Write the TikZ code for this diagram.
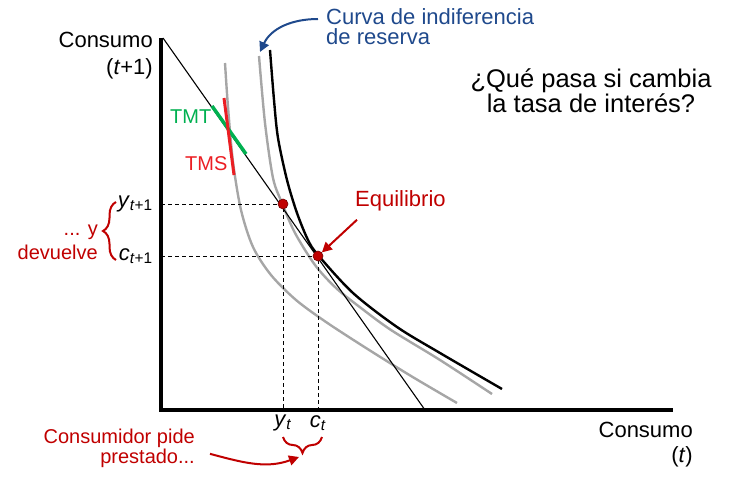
\documentclass[tikz,border=0pt]{standalone}
\usepackage{fontspec}
\setmainfont{Liberation Sans}
\usetikzlibrary{positioning,arrows.meta,decorations.pathreplacing}
\definecolor{rojo}{RGB}{192,0,0}
\definecolor{rojovivo}{RGB}{235,30,35}
\definecolor{verde}{RGB}{0,176,80}
\definecolor{azul}{RGB}{31,73,140}
\definecolor{gris}{RGB}{166,166,166}

\begin{document}
\begin{tikzpicture}[
        x=1pt, y=1pt,
        texto/.style={font=\fontsize{22}{27}\selectfont, inner sep=0pt},
        rotulo/.style={font=\fontsize{20}{20}\selectfont, inner sep=0pt, text=rojo},
        eje/.style={line width=3.5pt},
        curvagris/.style={gris, line width=2.4pt},
        curvanegra/.style={black, line width=2.4pt},
        guia/.style={line width=0.9pt, dash pattern=on 4pt off 3pt},
        punto/.style={circle, fill=rojo, draw=rojo!60!black, line width=0.6pt, minimum size=10pt, inner sep=0pt},
        llave/.style={rojo, line width=2pt, decorate, decoration={brace, amplitude=#1}},
        flecha/.style={line width=2pt, -{Triangle[length=10pt,width=10pt]}}
    ]
    \useasboundingbox (-161,-67) rectangle (580,410);

    % puntos de la grafica
    \coordinate (O) at (0,0);
    \coordinate (ytop) at (0,372);
    \coordinate (xend) at (512,0);
    \coordinate (r1) at (2,372);
    \coordinate (r2) at (264,0);
    \coordinate (e) at (122,206);
    \coordinate (q) at (157,154);

    % curvas de indiferencia
    \draw[curvagris] plot[smooth] coordinates {(64,347) (67,303) (72,248) (80,200) (92,163) (110,135) (135,110) (165,88) (205,62) (250,34) (296,7)};
    \draw[curvagris] plot[smooth] coordinates {(98,354) (104,287) (112,232) (121,207) (134,177) (154,145) (175,122) (200,102) (230,80) (279,50) (331,16)};
    \draw[curvanegra] plot[smooth] coordinates {(109,360) (113,310) (117,272) (126,230) (136,197) (147,170) (157,155) (192,117) (236,83) (279,57) (341,21)};

    % restriccion
    \draw[line width=1.1pt] (r1) -- (r2);
    \draw[verde, line width=3.5pt] (51,304) -- (85,256);
    \draw[rojovivo, line width=3pt] (63,312) -- (73,235);

    % guias
    \draw[guia] (O |- e) -- (e) -- (e |- O);
    \draw[guia] (O |- q) -- (q) -- (q |- O);

    % ejes
    \draw[eje] (ytop) -- (O) -- (xend);

    \node[punto] (E) at (e) {};
    \node[punto] (Q) at (q) {};

    % textos de los ejes
    \node[texto, anchor=base east, align=right] (ejey) at (-8,335) {Consumo\\(\textit{t}+1)};
    \node[texto, anchor=base east, align=right, font=\fontsize{22}{25}\selectfont] (ejex) at (532,-52) {Consumo\\(\textit{t})};
    \node[texto, anchor=east] (yt1) at (-8,206) {\textit{y}\textsubscript{\textit{t}+1}};
    \node[texto, anchor=east] (ct1) at (-8,154) {\textit{c}\textsubscript{\textit{t}+1}};
    \node[texto, anchor=north] (yt) at (122,-5) {\textit{y}\textsubscript{\textit{t}}};
    \node[texto, anchor=north] (ct) at (157,-5) {\textit{c}\textsubscript{\textit{t}}};

    \node[rotulo, text=verde, anchor=base west] (tmt) at (9,286) {TMT};
    \node[rotulo, text=rojovivo, anchor=base west] (tms) at (24,239) {TMS};

    % llaves
    \draw[llave=13pt] (-45,150) -- (-45,208);
    \draw[llave=16pt] (161,-27) -- (122,-27);
    \coordinate (puntallave) at (141,-46);

    \node[rotulo, anchor=base east, align=right, font=\fontsize{20}{24}\selectfont] (devuelve) at (-63,151) {... y\\devuelve};
    \node[rotulo, anchor=base east, align=right] (pide) at (34,-53) {Consumidor pide\\prestado...};
    \draw[flecha, rojo] ([xshift=15pt,yshift=-6pt]pide.east) to[out=-15,in=200] ([xshift=-3pt,yshift=-1pt]puntallave);

    \node[rotulo, font=\fontsize{22}{22}\selectfont, anchor=base west] (equil) at (194,204) {Equilibrio};
    \draw[flecha, rojo] ([xshift=2pt,yshift=-9pt]equil.south west) -- (Q);

    % curva de reserva
    \coordinate (tipres) at (99,358);
    \node[texto, text=azul, anchor=base west, align=left, font=\fontsize{22}{20}\selectfont] (reserva) at (165,365) {Curva de indiferencia\\de reserva};
    \draw[flecha, azul] ([xshift=-8pt,yshift=26pt]reserva.base west) to[out=180,in=65] (tipres);

    \node[anchor=base, align=center, font=\fontsize{25.5}{25.5}\selectfont] (pregunta) at (430,297) {¿Qué pasa si cambia\\la tasa de interés?};
\end{tikzpicture}
\end{document}
